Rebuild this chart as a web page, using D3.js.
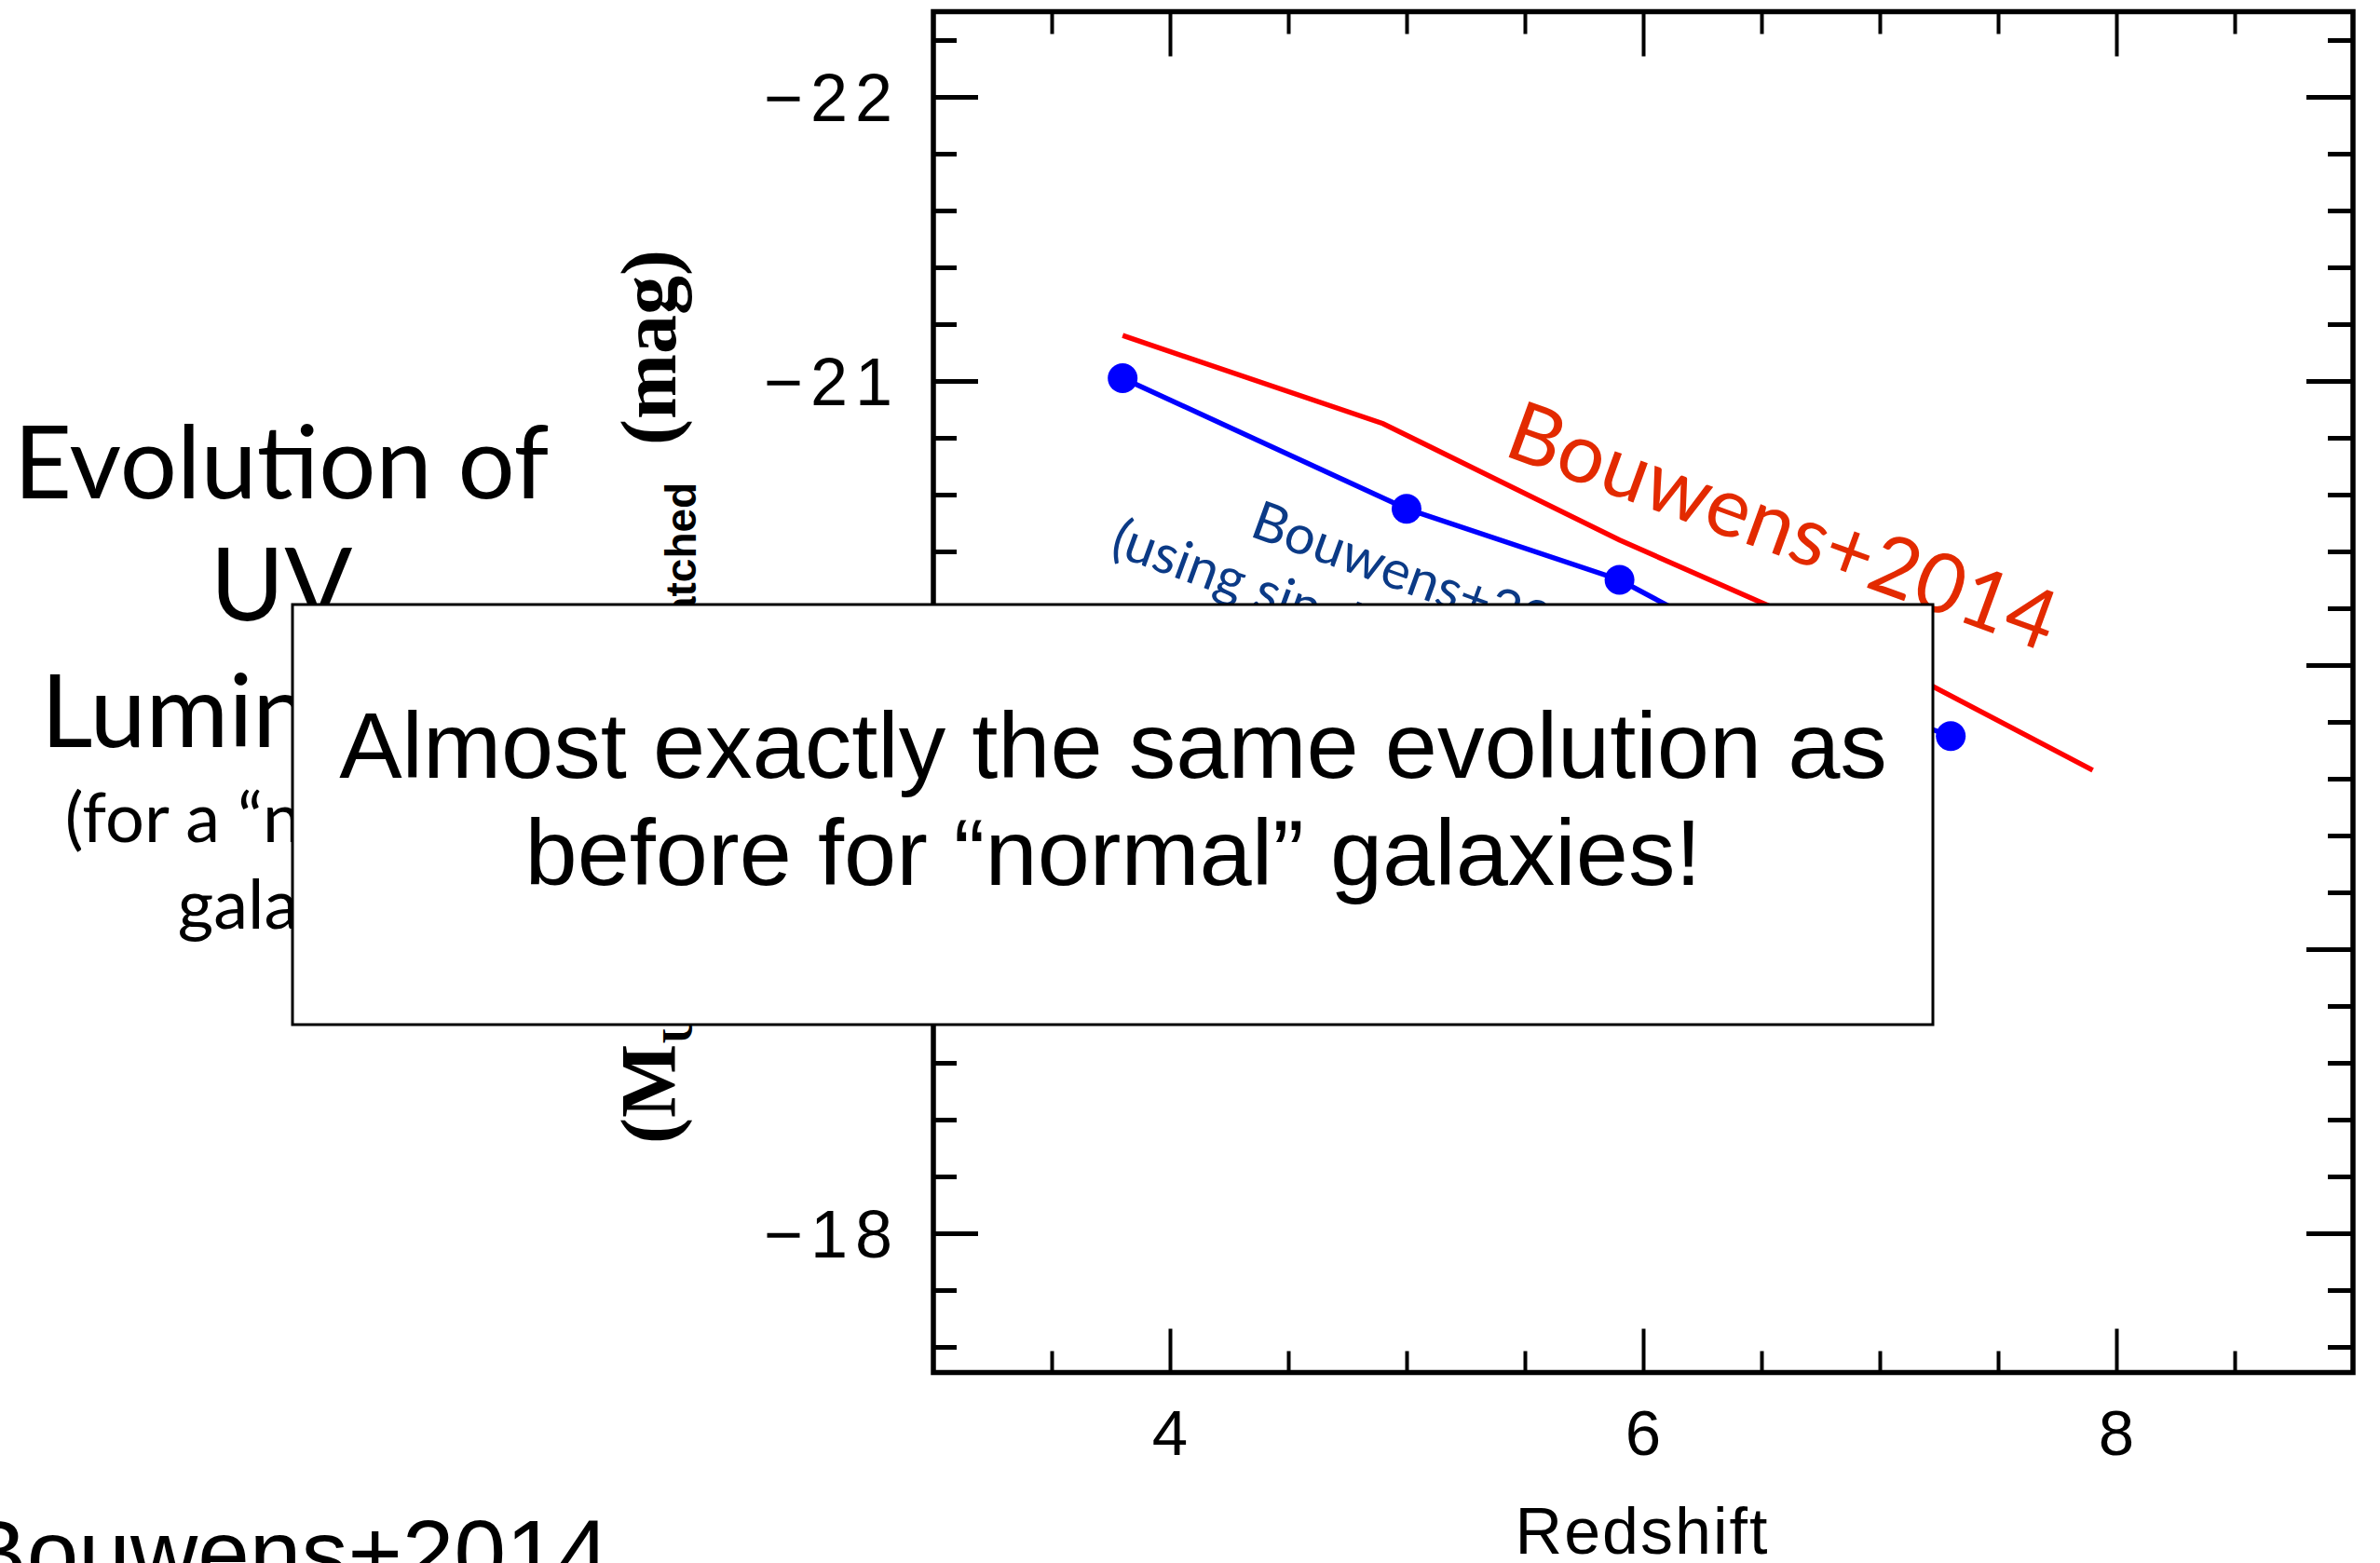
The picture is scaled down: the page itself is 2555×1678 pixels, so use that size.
<!DOCTYPE html>
<html>
<head>
<meta charset="utf-8">
<script src="https://cdn.jsdelivr.net/npm/d3@7"></script>
<style>
  html, body { margin: 0; padding: 0; background: #fff; }
  svg { display: block; }
</style>
</head>
<body>
<script>
// Fitted UV luminosity evolution (red curve)
const fitRedshift = [3.8, 4.9, 5.9, 6.8, 7.9];
const fitMag = [-21.16, -20.85, -20.44, -20.11, -19.63];

// Stacked measurements (blue points)
const ptRedshift = [3.8, 5.0, 5.9, 6.8, 7.3];
const ptMag = [-21.01, -20.55, -20.30, -19.90, -19.75];

// Axis ticks
const xMajorTicks = [4, 6, 8];
const xTickLabels = ["4", "6", "8"];
const xMinorTicks = [3.5, 4.5, 5, 5.5, 6.5, 7, 7.5, 8.5];
const yMajorTicks = [-22, -21, -20, -19, -18];
const yTickLabels = ["\u221222", "\u221221", "\u221220", "\u221219", "\u221218"];
const yMinorTicks = [-22.2, -21.8, -21.6, -21.4, -21.2, -20.8, -20.6, -20.4, -20.2,
                     -19.8, -19.6, -19.4, -19.2, -18.8, -18.6, -18.4, -18.2, -17.8, -17.6];

const W = 2555, H = 1678;
const plot = { left: 1002, right: 2526, top: 12.5, bottom: 1476.5 };

const svg = d3.select("body").append("svg")
  .attr("width", W).attr("height", H)
  .attr("viewBox", `0 0 ${W} ${H}`);

const x = d3.scaleLinear().domain([3, 9]).range([plot.left, plot.right]);
const y = d3.scaleLinear().domain([-22.3, -17.5]).range([plot.top, plot.bottom]);

const sansAxis = "'Liberation Sans', Arial, Helvetica, sans-serif";
const humanist = "Lato, 'Open Sans', sans-serif";

// ---- ticks (inward, on all four sides) ----
function tickGroup(axis, width) {
  const g = svg.append("g").call(axis);
  g.select(".domain").remove();
  g.selectAll("line").attr("stroke", "#000").attr("stroke-width", width);
  g.selectAll("text").remove();
  return g;
}
tickGroup(d3.axisBottom(x).tickValues(xMajorTicks).tickSize(-47), 4).attr("transform", `translate(0,${plot.bottom - 3})`);
tickGroup(d3.axisBottom(x).tickValues(xMinorTicks).tickSize(-23), 4).attr("transform", `translate(0,${plot.bottom - 3})`);
tickGroup(d3.axisTop(x).tickValues(xMajorTicks).tickSize(-48), 4).attr("transform", `translate(0,${plot.top})`);
tickGroup(d3.axisTop(x).tickValues(xMinorTicks).tickSize(-24), 4).attr("transform", `translate(0,${plot.top})`);
tickGroup(d3.axisLeft(y).tickValues(yMajorTicks).tickSize(-48), 5).attr("transform", `translate(${plot.left},0)`);
tickGroup(d3.axisLeft(y).tickValues(yMinorTicks).tickSize(-25), 5).attr("transform", `translate(${plot.left},0)`);
tickGroup(d3.axisRight(y).tickValues(yMajorTicks).tickSize(-50), 5).attr("transform", `translate(${plot.right},0)`);
tickGroup(d3.axisRight(y).tickValues(yMinorTicks).tickSize(-27), 5).attr("transform", `translate(${plot.right},0)`);

// frame
svg.append("rect")
  .attr("x", plot.left).attr("y", plot.top)
  .attr("width", plot.right - plot.left).attr("height", plot.bottom - 3 - plot.top)
  .attr("fill", "none").attr("stroke", "#000").attr("stroke-width", 5.5);

// tick labels
svg.append("g").selectAll("text").data(yMajorTicks).join("text")
  .attr("x", plot.left - 36)
  .attr("y", d => y(d))
  .attr("dy", "0.36em")
  .attr("text-anchor", "end")
  .attr("font-family", sansAxis)
  .attr("font-size", 72)
  .attr("letter-spacing", 8)
  .text((d, i) => yTickLabels[i]);

svg.append("g").selectAll("text").data(xMajorTicks).join("text")
  .attr("x", d => x(d))
  .attr("y", 1562)
  .attr("text-anchor", "middle")
  .attr("font-family", sansAxis)
  .attr("font-size", 69)
  .text((d, i) => xTickLabels[i]);

// axis titles
svg.append("text")
  .attr("x", 1763).attr("y", 1668)
  .attr("text-anchor", "middle")
  .attr("font-family", sansAxis)
  .attr("font-size", 70)
  .attr("letter-spacing", 2)
  .text("Redshift");

const yTitle = svg.append("text")
  .attr("transform", "translate(725,0) rotate(-90)")
  .attr("font-family", "'Liberation Serif', 'DejaVu Serif', serif")
  .attr("font-weight", "bold")
  .attr("font-size", 84);
yTitle.append("tspan").attr("x", -1228).attr("y", 0).text("(M");
yTitle.append("tspan").attr("y", 18).attr("font-size", 46).text("UV,");
yTitle.append("tspan").attr("x", -707).attr("y", 22)
  .attr("font-family", sansAxis).attr("font-size", 46).text("matched");
yTitle.append("tspan").attr("x", -478).attr("y", 0).text("(mag)");

// ---- data ----
const line = d3.line().x(d => x(d[0])).y(d => y(d[1]));

svg.append("path")
  .datum(d3.zip(fitRedshift, fitMag))
  .attr("d", line)
  .attr("fill", "none").attr("stroke", "#ff0000").attr("stroke-width", 5.5);

svg.append("path")
  .datum(d3.zip(ptRedshift, ptMag))
  .attr("d", line)
  .attr("fill", "none").attr("stroke", "#0000ff").attr("stroke-width", 5.5);

svg.append("g").selectAll("circle").data(d3.zip(ptRedshift, ptMag)).join("circle")
  .attr("cx", d => x(d[0])).attr("cy", d => y(d[1]))
  .attr("r", 16).attr("fill", "#0000ff");

// series annotations
svg.append("text")
  .attr("transform", "translate(1612,488) rotate(20)")
  .attr("font-family", humanist)
  .attr("font-size", 89)
  .attr("fill", "#e32a00")
  .text("Bouwens+2014");

const blueNote = svg.append("g").attr("fill", "#0b3a86")
  .attr("font-family", humanist).attr("font-size", 58);
blueNote.append("text").attr("transform", "translate(1340,575) rotate(20)").text("Bouwens+2007");
blueNote.append("text").attr("transform", "translate(1190,594) rotate(20)").text("(using single band)");

// ---- slide text on the left ----
const title = svg.append("g").attr("font-family", humanist).attr("text-anchor", "middle").attr("fill", "#000");
title.append("text").attr("x", 302).attr("y", 535).attr("font-size", 108).text("Evolution of");
title.append("text").attr("x", 302).attr("y", 666).attr("font-size", 108).text("UV");
title.append("text").attr("x", 302).attr("y", 802).attr("font-size", 108).text("Luminosity");
title.append("text").attr("x", 302).attr("y", 904).attr("font-size", 74).text("(for a \u201cnormal\u201d");
title.append("text").attr("x", 302).attr("y", 997).attr("font-size", 74).text("galaxy)");

svg.append("text")
  .attr("x", -38).attr("y", 1702)
  .attr("font-family", sansAxis)
  .attr("font-size", 100)
  .text("Bouwens+2014");

// ---- callout box ----
const box = svg.append("g");
box.append("rect")
  .attr("x", 314).attr("y", 649).attr("width", 1761).attr("height", 451)
  .attr("fill", "#fff").attr("stroke", "#000").attr("stroke-width", 3);
box.append("text")
  .attr("x", 1195).attr("y", 835).attr("text-anchor", "middle")
  .attr("font-family", sansAxis).attr("font-size", 101)
  .text("Almost exactly the same evolution as");
box.append("text")
  .attr("x", 1195).attr("y", 950).attr("text-anchor", "middle")
  .attr("font-family", sansAxis).attr("font-size", 101)
  .text("before for \u201cnormal\u201d galaxies!");
</script>
</body>
</html>
